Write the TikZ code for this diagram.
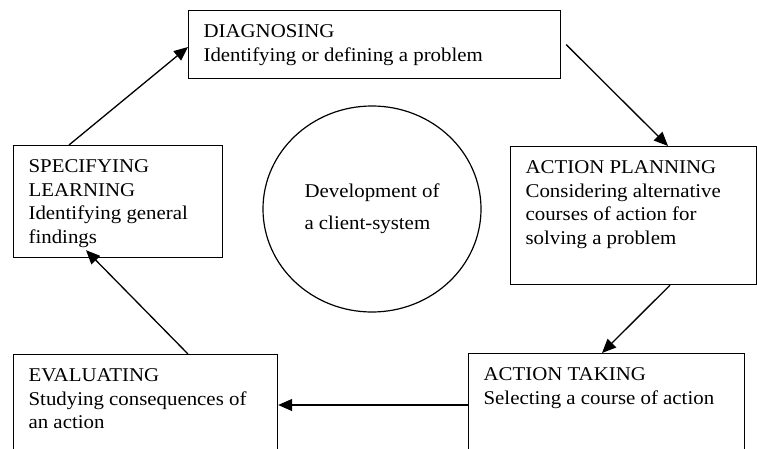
\documentclass[tikz,border=0pt]{standalone}
\usepackage{fontspec}
\setmainfont{Liberation Serif}[FakeStretch=1.07]
\usetikzlibrary{arrows.meta,shapes.geometric}
\newcommand{\boxtxt}[3]{\parbox[t][#2][t]{#1}{\rule{0pt}{27pt}#3}}
\tikzset{
  stagebox/.style={draw, line width=1.2pt, inner xsep=15pt, inner ysep=0pt, anchor=north west},
  flow/.style={line width=1.3pt, -{Triangle[length=14pt,width=12pt]}},
  core/.style={draw, ellipse, line width=1.2pt, minimum width=218pt, minimum height=206pt, align=left, inner sep=0pt},
  every node/.style={font=\fontsize{19.5pt}{23.5pt}\selectfont}
}
\begin{document}
\begin{tikzpicture}[x=1pt, y=-1pt]
\useasboundingbox (0,0) rectangle (757,449);
\clip (0,0) rectangle (757,449);
\fill[white] (0,0) rectangle (757,449);

\node[stagebox] (diag) at (188,10) {\boxtxt{342pt}{68pt}{DIAGNOSING\\Identifying or defining a problem}};
\node[stagebox] (plan) at (510,146) {\boxtxt{216pt}{138pt}{ACTION PLANNING\\Considering alternative\\courses of action for\\solving a problem}};
\node[stagebox] (take) at (468,353) {\boxtxt{246pt}{120pt}{ACTION TAKING\\Selecting a course of action}};
\node[stagebox] (eval) at (13,354) {\boxtxt{234pt}{120pt}{EVALUATING\\Studying consequences of\\an action}};
\node[stagebox] (spec) at (13,145) {\boxtxt{179pt}{112pt}{SPECIFYING\\LEARNING\\Identifying general\\findings}};

\node[core] (dev) at (372,209) {Development of\\[8.5pt]a client-system};

\draw[flow] ([xshift=5pt]diag.east) -- ([xshift=158pt]plan.north west);
\draw[flow] ([xshift=160pt]plan.south west) -- ([xshift=134pt]take.north west);
\draw[flow] ([yshift=-52pt]take.north west) -- ([yshift=-51pt]eval.north east);
\draw[flow] ([xshift=175pt]eval.north west) -- ([xshift=73pt,yshift=8pt]spec.south west);
\draw[flow] ([xshift=56pt]spec.north west) -- ([yshift=-37pt]diag.north west);
\end{tikzpicture}
\end{document}
